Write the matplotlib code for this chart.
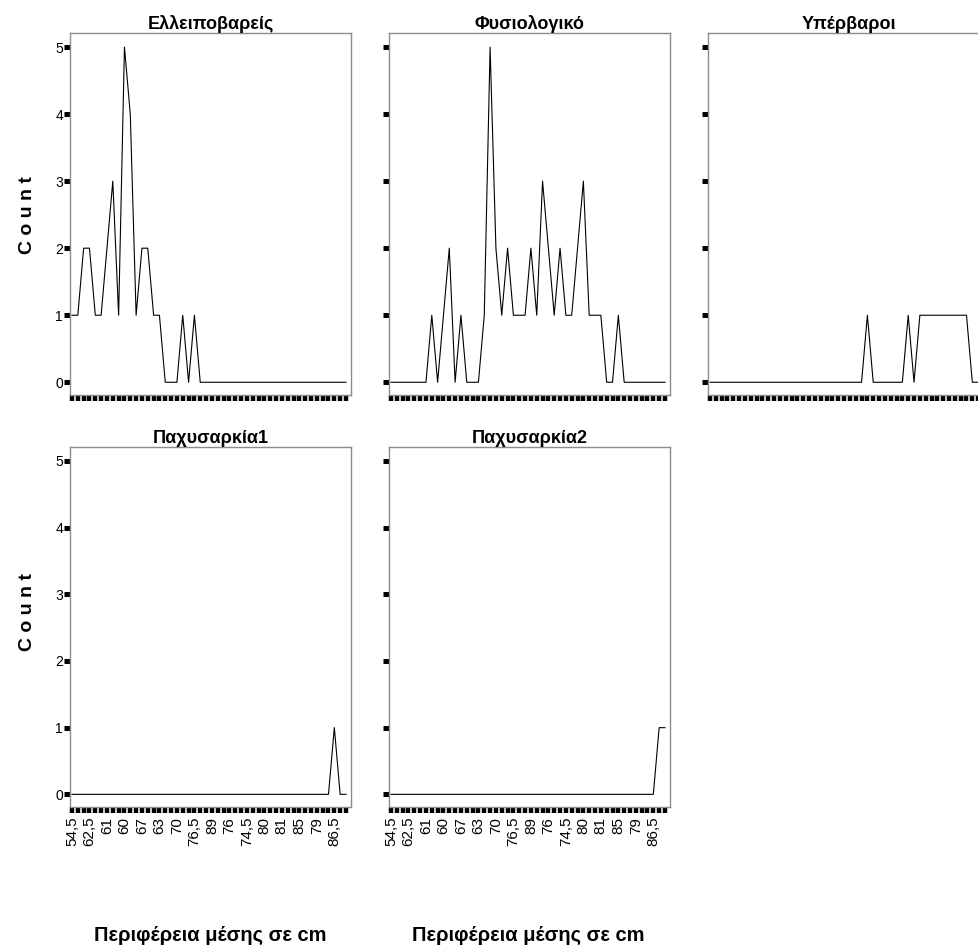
import matplotlib
matplotlib.use('Agg')
import matplotlib.pyplot as plt

plt.rcParams['font.family'] = ['Liberation Sans Narrow', 'Liberation Sans', 'DejaVu Sans']

# waist circumference categories (48 of them, only every third is labelled)
n_cats = 48
shown_labels = ['54,5', '62,5', '61', '60', '67', '63', '70', '76,5',
                '89', '76', '74,5', '80', '81', '85', '79', '86,5']

titles = ['Ελλειποβαρείς', 'Φυσιολογικό', 'Υπέρβαροι', 'Παχυσαρκία1', 'Παχυσαρκία2']

counts_under = [1, 1, 2, 2, 1, 1, 2, 3, 1, 5, 4, 1, 2, 2, 1, 1, 0, 0, 0, 1, 0, 1,
                0, 0, 0, 0, 0, 0, 0, 0, 0, 0, 0, 0, 0, 0, 0, 0, 0, 0, 0, 0, 0, 0, 0, 0, 0, 0]
counts_normal = [0, 0, 0, 0, 0, 0, 0, 1, 0, 1, 2, 0, 1, 0, 0, 0, 1, 5, 2, 1, 2, 1,
                 1, 1, 2, 1, 3, 2, 1, 2, 1, 1, 2, 3, 1, 1, 1, 0, 0, 1, 0, 0, 0, 0, 0, 0, 0, 0]
counts_over = [0, 0, 0, 0, 0, 0, 0, 0, 0, 0, 0, 0, 0, 0, 0, 0, 0, 0, 0, 0, 0, 0,
               0, 0, 0, 0, 0, 1, 0, 0, 0, 0, 0, 0, 1, 0, 1, 1, 1, 1, 1, 1, 1, 1, 1, 0, 0, 0]
counts_obese1 = [0] * 45 + [1, 0, 0]
counts_obese2 = [0] * 46 + [1, 1]

all_counts = [counts_under, counts_normal, counts_over, counts_obese1, counts_obese2]

tick_labels = [''] * n_cats
for i, lab in enumerate(shown_labels):
    tick_labels[i * 3] = lab

W, H = 979, 949
fig = plt.figure(figsize=(W / 100, H / 100), dpi=100)

lefts = [70, 389, 708]
width = 281
rows = [(33, 395), (447, 807)]

for k, counts in enumerate(all_counts):
    r, c = divmod(k, 3)
    top, bot = rows[r]
    ax = fig.add_axes([lefts[c] / W, 1 - bot / H, width / W, (bot - top) / H])
    ax.plot(range(n_cats), counts, color='black', lw=0.8)
    ax.set_xlim(-0.34, n_cats - 1 + 0.86)
    ax.set_ylim(-0.19, 5.21)
    for s in ax.spines.values():
        s.set_color('#8c8c8c')
        s.set_linewidth(1.0)
    ax.set_yticks(range(6))
    ax.set_xticks(range(n_cats))
    ax.tick_params(axis='y', length=4, width=3.6, color='black', pad=1, labelsize=10)
    ax.tick_params(axis='x', length=4, width=3.2, color='black', pad=3, labelsize=11)
    if c == 0:
        ax.set_yticklabels([str(v) for v in range(6)])
    else:
        ax.set_yticklabels([])
    if r == 1:
        ax.set_xticklabels(tick_labels, rotation=90)
    else:
        ax.set_xticklabels([])
    ax.set_title(titles[k], fontsize=13, fontweight='bold', pad=1)

for yc in [215, 612]:
    fig.text(28 / W, 1 - yc / H, 'C o u n t', rotation=90, fontsize=14,
             fontweight='bold', ha='center', va='center')

for xc in [210, 528]:
    fig.text(xc / W, 1 - 935 / H, 'Περιφέρεια μέσης σε cm', fontsize=14.5,
             fontweight='bold', ha='center', va='center')

fig.savefig('out.png', dpi=100)
